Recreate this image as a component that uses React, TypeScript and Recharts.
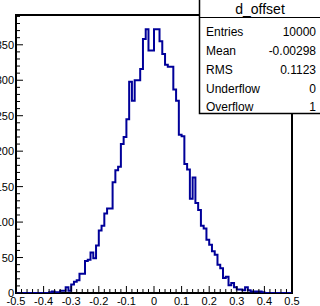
import React from 'react';
import { ComposedChart, Line, XAxis, YAxis, ReferenceArea } from 'recharts';

// Histogram "d_offset": 100 bins from -0.5 to 0.5
const xMin = -0.5;
const xMax = 0.5;
const binWidth = 0.01;
const counts: number[] = [
  0, 0, 0, 0, 0, 0, 0, 0, 0, 0,
  0, 0, 1, 2, 1, 1, 3, 3, 8, 3,
  12, 16, 18, 27, 27, 45, 47, 57, 49, 67,
  88, 95, 112, 119, 119, 156, 173, 178, 210, 220,
  245, 298, 271, 300, 300, 316, 358, 372, 342, 342,
  372, 372, 355, 337, 322, 319, 319, 287, 271, 223,
  221, 182, 174, 133, 163, 127, 117, 95, 91, 75,
  68, 59, 54, 40, 35, 21, 23, 11, 14, 8,
  5, 5, 4, 8, 4, 2, 2, 2, 2, 1,
  0, 0, 0, 0, 0, 0, 0, 0, 0, 0,
];

const xMajorTicks = [-0.5, -0.4, -0.3, -0.2, -0.1, 0, 0.1, 0.2, 0.3, 0.4, 0.5];
const xMajorLabels = ['-0.5', '-0.4', '-0.3', '-0.2', '-0.1', '0', '0.1', '0.2', '0.3', '0.4', '0.5'];
const yMajorTicks = [0, 50, 100, 150, 200, 250, 300, 350];
const yMajorLabels = ['0', '50', '100', '150', '200', '250', '300', '350'];
const yMax = 392;

const statsTitle = 'd_offset';
const statsLabels = ['Entries', 'Mean', 'RMS', 'Underflow', 'Overflow'];
const statsValues = ['10000', '-0.00298', '0.1123', '0', '1'];

// Build the step data from the bin list
const data = counts.map((c, i) => ({ x: Math.round((xMin + i * binWidth) * 1000) / 1000, c }));
data.push({ x: xMax, c: counts[counts.length - 1] });

const xTicks: number[] = [];
for (let i = 0; i < xMajorTicks.length - 1; i++) {
  for (let j = 0; j < 5; j++) {
    xTicks.push(Math.round((xMajorTicks[i] + (j * (xMajorTicks[i + 1] - xMajorTicks[i])) / 5) * 1000) / 1000);
  }
}
xTicks.push(xMajorTicks[xMajorTicks.length - 1]);

const yTicks: number[] = [];
for (let v = 0; v <= 390; v += 10) yTicks.push(v);

const FONT = 'Liberation Sans, Arial, Helvetica, sans-serif';

const XTick = (props: any) => {
  const { x, y, payload } = props;
  const v = payload.value as number;
  const idx = xMajorTicks.findIndex((m) => Math.abs(m - v) < 1e-6);
  const major = idx >= 0;
  return (
    <g>
      <line x1={x} x2={x} y1={y} y2={y - (major ? 7 : 4)} stroke="#000" strokeWidth={1} />
      {major && (
        <text x={x} y={y + 12} textAnchor="middle" fontSize={11} fontFamily={FONT} fill="#000">
          {xMajorLabels[idx]}
        </text>
      )}
    </g>
  );
};

const YTick = (props: any) => {
  const { x, y, payload } = props;
  const v = payload.value as number;
  const idx = yMajorTicks.indexOf(v);
  const major = idx >= 0;
  return (
    <g>
      <line x1={x} x2={x + (major ? 7 : 4)} y1={y} y2={y} stroke="#000" strokeWidth={1} />
      {major && (
        <text x={x - 2} y={y + 4} textAnchor="end" fontSize={11} fontFamily={FONT} fill="#000">
          {yMajorLabels[idx]}
        </text>
      )}
    </g>
  );
};

export default function App() {
  const rowBase = [36, 55, 74, 92.5, 111];
  return (
    <div style={{ position: 'absolute', left: 0, top: 0, width: 320, height: 306, background: '#fff' }}>
      <ComposedChart
        width={320}
        height={306}
        data={data}
        margin={{ top: 15, right: 28, bottom: 0, left: 0 }}
      >
        <XAxis
          dataKey="x"
          type="number"
          domain={[xMin, xMax]}
          ticks={xTicks}
          interval={0}
          tick={<XTick />}
          tickLine={false}
          axisLine={false}
          tickSize={0}
          tickMargin={0}
          height={13}
          allowDataOverflow
        />
        <YAxis
          type="number"
          domain={[0, yMax]}
          ticks={yTicks}
          interval={0}
          tick={<YTick />}
          tickLine={false}
          axisLine={false}
          tickSize={0}
          tickMargin={0}
          width={16}
          allowDataOverflow
        />
        <Line
          type="stepAfter"
          dataKey="c"
          stroke="#000099"
          strokeWidth={2}
          dot={false}
          activeDot={false}
          isAnimationActive={false}
        />
        <ReferenceArea x1={xMin} x2={xMax} y1={0} y2={yMax} fill="none" stroke="#000" strokeWidth={2} ifOverflow="visible" />
      </ComposedChart>
      <svg
        width={320}
        height={306}
        style={{ position: 'absolute', left: 0, top: 0, pointerEvents: 'none' }}
      >
        <rect x={199.5} y={-2} width={130} height={115.5} fill="#fff" stroke="#000" strokeWidth={1.5} />
        <line x1={199.5} x2={320} y1={17.5} y2={17.5} stroke="#000" strokeWidth={1.2} />
        <text x={260} y={14} textAnchor="middle" fontSize={14} fontFamily={FONT} fill="#000">
          {statsTitle}
        </text>
        {statsLabels.map((l, i) => (
          <g key={l}>
            <text x={206} y={rowBase[i]} fontSize={12} fontFamily={FONT} fill="#000">
              {l}
            </text>
            <text x={316} y={rowBase[i]} textAnchor="end" fontSize={12} fontFamily={FONT} fill="#000">
              {statsValues[i]}
            </text>
          </g>
        ))}
      </svg>
    </div>
  );
}
